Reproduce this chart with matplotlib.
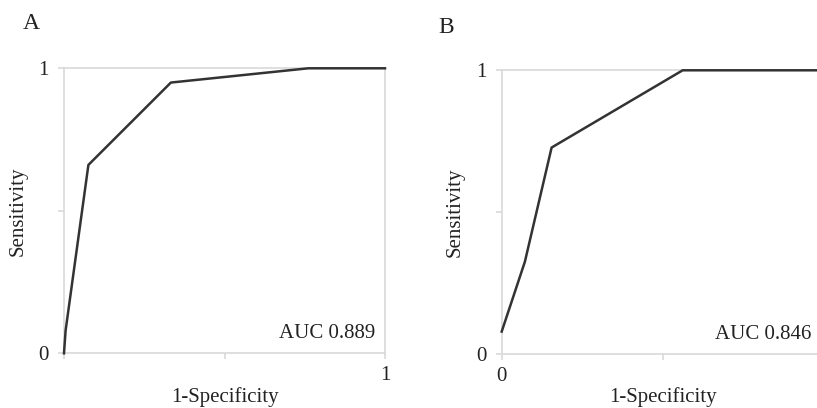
import matplotlib.pyplot as plt

plt.rcParams['font.family'] = ['Liberation Serif', 'DejaVu Serif']

# ROC curve points
fpr_a = [0.0, 0.005, 0.076, 0.333, 0.761, 1.0]
tpr_a = [0.0, 0.08, 0.661, 0.950, 1.0, 1.0]
fpr_b = [0.0, 0.072, 0.155, 0.562, 1.0]
tpr_b = [0.08, 0.326, 0.728, 1.0, 1.0]
auc_a = 'AUC 0.889'
auc_b = 'AUC 0.846'
ticks = [0, 0.5, 1]

W, H = 817, 408
fig = plt.figure(figsize=(W / 100, H / 100), dpi=100)

grey = '#d9d9d9'
line_col = '#333333'


def make_axes(left, top, right, bottom):
    return fig.add_axes([left / W, 1 - bottom / H, (right - left) / W, (bottom - top) / H])


def style(ax, xlabels, ylabels):
    ax.set_xlim(0, 1)
    ax.set_ylim(0, 1)
    for s in ax.spines.values():
        s.set_color(grey)
        s.set_linewidth(1.2)
    ax.set_xticks(ticks)
    ax.set_yticks(ticks)
    ax.set_xticklabels(xlabels)
    ax.set_yticklabels(ylabels)
    ax.tick_params(direction='out', length=4, width=1.2, color=grey,
                   labelsize=15, labelcolor='#222222')
    ax.tick_params(axis='y', pad=7)
    ax.tick_params(axis='x', pad=5)
    ax.set_xlabel('1-Specificity', fontsize=15, color='#222222')
    ax.set_ylabel('Sensitivity', fontsize=15, color='#222222')
    ax.xaxis.set_label_coords(0.5, -0.152)
    ax.xaxis.label.set_va('center')
    ax.yaxis.set_label_coords(-0.144, 0.5)
    ax.yaxis.label.set_va('center')


ax_a = make_axes(64, 68.3, 385, 353.3)
ax_a.plot(fpr_a, tpr_a, color=line_col, lw=1.8, clip_on=False, zorder=5)
style(ax_a, ['', '', '1'], ['0', '', '1'])
ax_a.text(0.969, 0.071, auc_a, transform=ax_a.transAxes, ha='right', va='center',
          fontsize=15, color='#222222')

ax_b = make_axes(501.7, 70.3, 823.7, 354.3)
ax_b.plot(fpr_b, tpr_b, color=line_col, lw=1.8, clip_on=False, zorder=5)
style(ax_b, ['0', '', ''], ['0', '', '1'])
ax_b.text(0.963, 0.071, auc_b, transform=ax_b.transAxes, ha='right', va='center',
          fontsize=15, color='#222222')

fig.text(31.7 / W, 1 - 23.3 / H, 'A', ha='center', va='center', fontsize=17, color='#222222')
fig.text(445.7 / W, 1 - 27.3 / H, 'B', ha='center', va='center', fontsize=17, color='#222222')

fig.savefig('out.png', dpi=100)
